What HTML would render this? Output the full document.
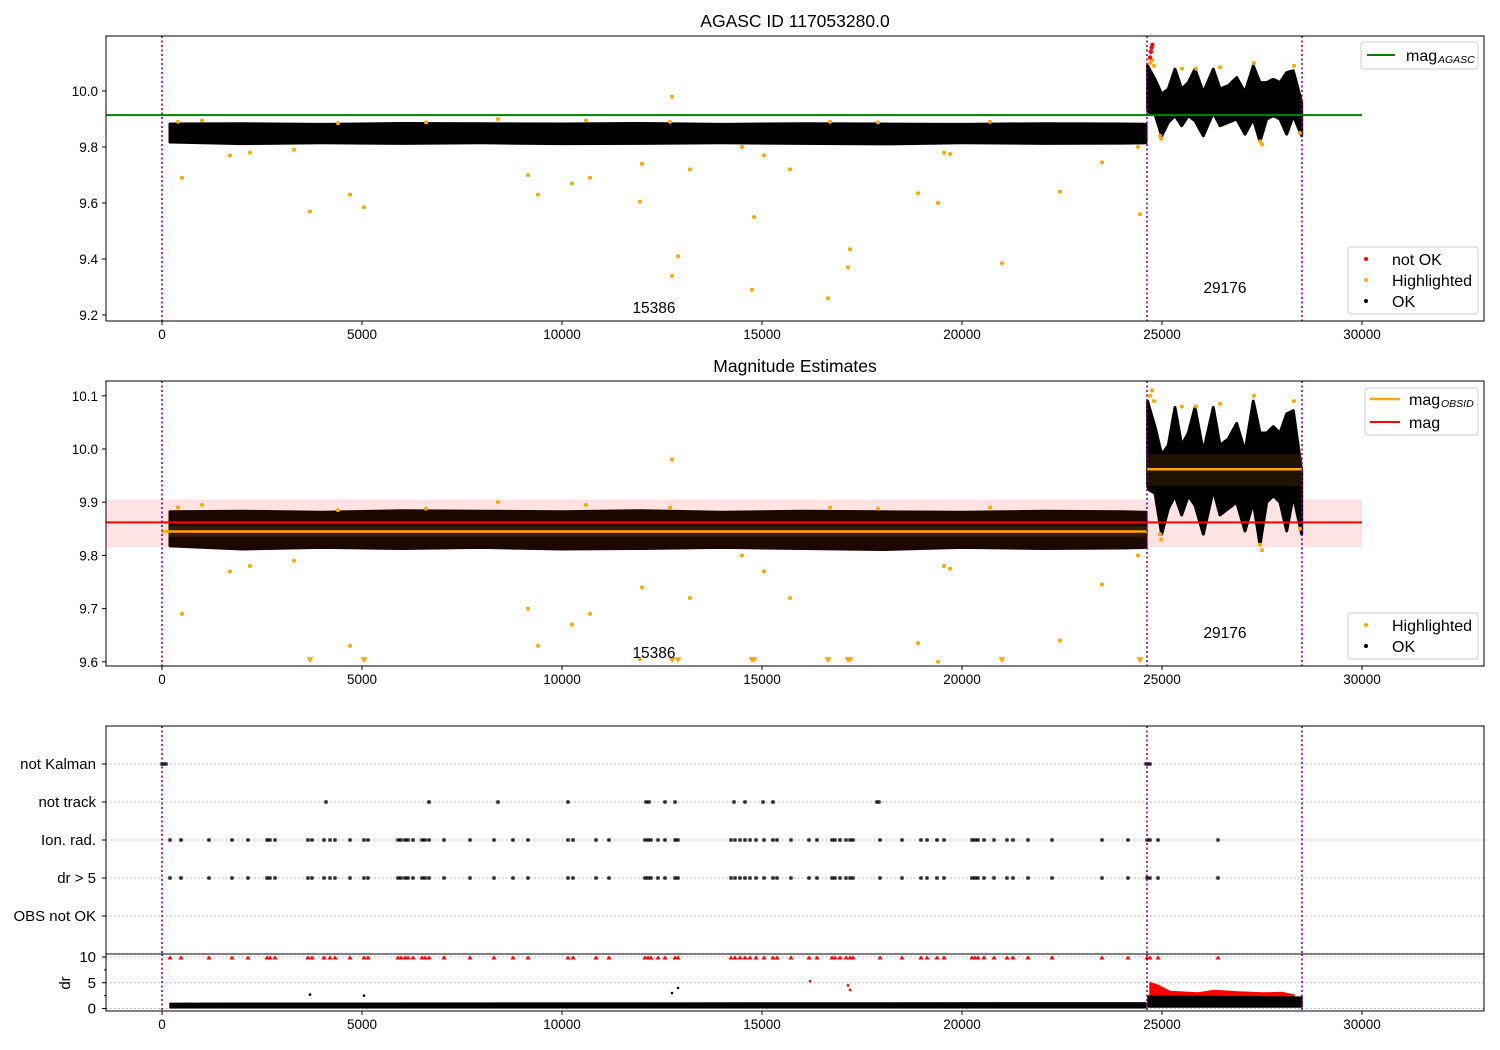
<!DOCTYPE html>
<html><head><meta charset="utf-8"><style>
body{margin:0;background:#fff}
svg{display:block;font-family:"Liberation Sans","DejaVu Sans",sans-serif}
</style></head><body>
<svg id="chart" width="1500" height="1050" xmlns="http://www.w3.org/2000/svg"></svg>
<script>
// ---------- data ----------
const xTicks=[0,5000,10000,15000,20000,25000,30000];
const y1Ticks=[9.2,9.4,9.6,9.8,10.0];
const y2Ticks=[9.6,9.7,9.8,9.9,10.0,10.1];
const flagRows=["not Kalman","not track","Ion. rad.","dr > 5","OBS not OK"];
const drTicks=[0,5,10];
const obsBounds=[0,24625,28500];
const obsLabels=["15386","29176"];
const obsLabelX=[12300,26575];
const magAgasc=9.914;
const magEst=9.862, magEstLo=9.815, magEstHi=9.905;
const magObsid=[9.845,9.962];
const magObsidLo=[9.835,9.93], magObsidHi=[9.855,9.99];
// segment 1 band envelope (time, hi, lo)
const seg1T=[200,2000,4000,6000,8000,10000,12000,14000,16000,18000,20000,22000,24000,24600];
const seg1Hi=[9.882,9.883,9.881,9.884,9.883,9.882,9.884,9.881,9.883,9.882,9.881,9.883,9.882,9.881];
const seg1Lo=[9.818,9.812,9.815,9.813,9.815,9.812,9.813,9.815,9.813,9.811,9.815,9.813,9.814,9.815];
// segment 2 band envelope
const seg2T=[24640,24683,24825,24992,25158,25325,25492,25658,25825,26033,26283,26450,26658,26867,27075,27283,27450,27617,27783,27950,28117,28283,28492];
const seg2Hi=[10.09,10.078,10.042,9.989,10.007,10.078,10.007,10.03,10.078,9.995,10.078,10.007,10.019,10.048,9.995,10.09,10.03,10.03,10.042,10.03,10.066,10.072,9.959];
const seg2Lo=[9.93,9.923,9.917,9.84,9.888,9.912,9.876,9.912,9.894,9.84,9.923,9.876,9.888,9.9,9.846,9.9,9.82,9.9,9.912,9.9,9.846,9.912,9.84];
// highlighted outliers
const hiT=[500,1700,2200,3700,4700,5050,9150,9400,10250,10700,11950,12000,12750,12750,12900,13200,14750,14800,15050,15700,16650,17150,17200,18900,19400,19550,19700,21000,22450,23500,24450,
 400,1000,3300,4400,6600,8400,10600,12700,14500,16700,17900,20700,24400,24700,24750,24800,24950,24980,25500,25850,26450,27300,27450,27500,28300,28450];
const hiV=[9.69,9.77,9.78,9.57,9.63,9.585,9.70,9.63,9.67,9.69,9.605,9.74,9.98,9.34,9.41,9.72,9.29,9.55,9.77,9.72,9.26,9.37,9.435,9.635,9.60,9.78,9.775,9.385,9.64,9.745,9.56,
 9.89,9.895,9.79,9.885,9.888,9.90,9.895,9.89,9.80,9.89,9.888,9.89,9.80,10.1,10.11,10.09,9.84,9.83,10.08,10.08,10.085,10.1,9.82,9.81,10.09,9.85];
const notOkT=[24700,24720,24740,24760];
const notOkV=[10.12,10.14,10.155,10.165];
// flags
const notKalmanT=[0,50,100,24600,24650,24700];
const notTrackT=[4100,6675,8400,10150,12100,12175,12575,12825,14300,14575,15025,15275,17875,17925];
const ionT=[200,475,1175,1750,2150,2625,2700,2825,3650,3750,4050,4200,4325,4700,5050,5150,5900,5975,6075,6150,6275,6500,6575,6675,7050,7700,8300,8775,9150,10150,10275,10850,11175,12075,12150,12225,12400,12575,12825,12900,14225,14325,14450,14575,14700,14850,15050,15275,15375,15725,16175,16375,16750,16825,16950,17100,17200,17275,17950,18500,18975,19125,19375,19550,20250,20325,20400,20550,20800,21125,21275,21650,22250,23500,24150,24625,24700,24900,26400];
// dr
const drSegT=[200,24600,24650,28500];
const drHi=[1.0,1.1,2.4,2.2];
const drLo=[0.15,0.15,0.3,0.3];
const drRedT=[24700,24900,25200,25900,26300,26900,27500,28000,28300];
const drRedV=[5.0,4.5,3.3,3.0,3.5,3.2,3.0,3.1,2.6];
const drOutT=[3700,5050,12750,12900,16200,17150,17200];
const drOutV=[2.7,2.5,3.0,4.0,5.3,4.5,3.6];

// ---------- drawing ----------
const NS="http://www.w3.org/2000/svg";
const svg=document.getElementById('chart');
function el(tag,attrs,parent){const e=document.createElementNS(NS,tag);for(const k in attrs)e.setAttribute(k,attrs[k]);(parent||svg).appendChild(e);return e;}
const L=106,R=1484;
const X=v=>162+v*0.04;
const Y1=v=>91+(10-v)*280;
const Y2=v=>449+(10-v)*532;
const YF=i=>764+i*38;
const YD=v=>1008.5-v*5.15;

function clip(id,y0,y1){const c=el('clipPath',{id:id});el('rect',{x:L,y:y0,width:R-L,height:y1-y0},c);}
clip('c1',36,321);clip('c2',381,666);clip('c3',726,954);clip('c4',954,1011);

function band(T,Hi,Lo,Y,fill,g,sw){let d='M'+T.map((t,i)=>X(t)+','+Y(Hi[i])).join('L');for(let i=T.length-1;i>=0;i--)d+='L'+X(T[i])+','+Y(Lo[i]);d+='Z';
 const p=el('path',{d:d,fill:fill,stroke:fill,'stroke-width':sw===undefined?3:sw,'stroke-linejoin':'round'},g);}
function dot(x,y,c,r,g){const e=el('circle',{cx:x,cy:y,r:r,fill:c},g);}
function tri(x,y,c,g,down,s){s=s||3.5;const pts=down?`${x-s},${y-s} ${x+s},${y-s} ${x},${y+s*0.6}`:`${x-s},${y+s*0.6} ${x+s},${y+s*0.6} ${x},${y-s}`;
 const e=el('polygon',{points:pts,fill:c},g);}
function text(x,y,s,attrs,name){const t=el('text',Object.assign({x:x,y:y,'font-size':13.5,fill:'#000'},attrs||{}));t.textContent=s;return t;}
function xAxis(yb){xTicks.forEach(v=>{el('line',{x1:X(v),x2:X(v),y1:yb,y2:yb+4,stroke:'#000'});text(X(v),yb+18,String(v),{'text-anchor':'middle'},'x-tick-label');});}
function vlines(y0,y1,g){obsBounds.forEach(v=>{const l=el('line',{x1:X(v),x2:X(v),y1:y0,y2:y1,stroke:'#800080','stroke-width':1.6,'stroke-dasharray':'2,2.5'},g);});}
function hline(y,x0,x1,c,w,g,name){const l=el('line',{x1:x0,x2:x1,y1:y,y2:y,stroke:c,'stroke-width':w},g);return l;}
function frame(y0,y1,name){const r=el('rect',{x:L,y:y0,width:R-L,height:y1-y0,fill:'none',stroke:'#000','stroke-width':1});}
function legendBox(x,y,w,h){const r=el('rect',{x:x,y:y,width:w,height:h,rx:3,fill:'#fff','fill-opacity':0.8,stroke:'#ccc'});}
const BIG={'font-size':16};

// ---- panel 1 ----
text(795,27,'AGASC ID 117053280.0',{'text-anchor':'middle','font-size':17.5},'chart-title');
const g1=el('g',{'clip-path':'url(#c1)'});
band(seg1T,seg1Hi,seg1Lo,Y1,'#000',g1);
band(seg2T,seg2Hi,seg2Lo,Y1,'#000',g1);
hiT.forEach((t,i)=>dot(X(t),Y1(hiV[i]),'orange',2,g1));
notOkT.forEach((t,i)=>dot(X(t),Y1(notOkV[i]),'red',2.2,g1));
hline(Y1(magAgasc),L,X(30000),'green',2,g1,'mag-agasc-line');
vlines(36,321,g1);
obsLabels.forEach((s,i)=>text(X(obsLabelX[i]),[313,293][i],s,{'text-anchor':'middle','font-size':15.5},'obsid-label'));
frame(36,321,'panel-agasc');
xAxis(321);
y1Ticks.forEach(v=>{el('line',{x1:L-4,x2:L,y1:Y1(v),y2:Y1(v),stroke:'#000'});text(L-8,Y1(v)+5,v.toFixed(1),{'text-anchor':'end'},'y-tick-label');});
legendBox(1361,42,117,27);hline(55,1367,1395,'green',2,null,'legend-mag-agasc');
text(1406,61,'mag',BIG,'legend-label');text(1438,63,'AGASC',{'font-size':10.5,'font-style':'italic'},'legend-label');
legendBox(1348,247,130,67);
[['not OK','red',260],['Highlighted','orange',281],['OK','#000',302]].forEach(a=>{dot(1366,a[2]-1,a[1],2,null);text(1392,a[2]+5,a[0],BIG,'legend-entry');});

// ---- panel 2 ----
text(795,372,'Magnitude Estimates',{'text-anchor':'middle','font-size':17.5},'panel-title');
const g2=el('g',{'clip-path':'url(#c2)'});
const pb=el('rect',{x:L,y:Y2(magEstHi),width:X(30000)-L,height:Y2(magEstLo)-Y2(magEstHi),fill:'red','fill-opacity':0.11},g2);
band(seg1T,seg1Hi,seg1Lo,Y2,'#1c0800',g2);
band(seg2T,seg2Hi,seg2Lo,Y2,'#000',g2);
[[0,24625],[24625,28500]].forEach((s,i)=>{const r=el('rect',{x:X(s[0]),y:Y2(magObsidHi[i]),width:X(s[1])-X(s[0]),height:Y2(magObsidLo[i])-Y2(magObsidHi[i]),fill:'orange','fill-opacity':0.12},g2);});
hiT.forEach((t,i)=>{if(hiV[i]<9.6)tri(X(t),Y2(9.6)-1,'orange',g2,true);else dot(X(t),Y2(hiV[i]),'orange',2,g2);});
hline(Y2(magEst),L,X(30000),'red',2,g2,'mag-line');
[[0,24625],[24625,28500]].forEach((s,i)=>hline(Y2(magObsid[i]),X(s[0]),X(s[1]),'orange',2.5,g2,'mag-obsid-line'));
vlines(381,666,g2);
obsLabels.forEach((s,i)=>text(X(obsLabelX[i]),[658,638][i],s,{'text-anchor':'middle','font-size':15.5},'obsid-label'));
frame(381,666,'panel-estimates');
xAxis(666);
y2Ticks.forEach(v=>{el('line',{x1:L-4,x2:L,y1:Y2(v),y2:Y2(v),stroke:'#000'});text(L-8,Y2(v)+5,v.toFixed(1),{'text-anchor':'end'},'y-tick-label');});
legendBox(1365,388,113,47);hline(399,1370,1400,'orange',2.5,null,'legend-mag-obsid');hline(422,1370,1400,'red',2,null,'legend-mag');
text(1409,405,'mag',BIG,'legend-label');text(1441,407,'OBSID',{'font-size':10.5,'font-style':'italic'},'legend-label');text(1409,428,'mag',BIG,'legend-label');
legendBox(1348,613,130,46);
[['Highlighted','orange',626],['OK','#000',647]].forEach(a=>{dot(1366,a[2]-1,a[1],2,null);text(1392,a[2]+5,a[0],BIG,'legend-entry');});

// ---- panel 3: flags ----
const g3=el('g',{'clip-path':'url(#c3)'});
flagRows.forEach((s,i)=>{hline(YF(i),L,R,'#aaa',1,g3,'flag-gridline').setAttribute('stroke-dasharray','1.5,2.5');
 el('line',{x1:L-4,x2:L,y1:YF(i),y2:YF(i),stroke:'#000'});text(L-10,YF(i)+5,s,{'text-anchor':'end','font-size':15},'flag-row-label');});
function flagPts(T,row){T.forEach(t=>{const r=el('rect',{x:X(t)-1.2,y:YF(row)-1.2,width:2.4,height:2.4,fill:'#444',stroke:'#000','stroke-width':0.8},g3);});}
flagPts(notKalmanT,0);flagPts(notTrackT,1);flagPts(ionT,2);flagPts(ionT,3);
vlines(726,954,g3);
frame(726,954,'panel-flags');

// ---- panel 4: dr ----
const g4=el('g',{'clip-path':'url(#c4)'});
drTicks.forEach(v=>{hline(YD(v),L,R,'#aaa',1,g4,'dr-gridline').setAttribute('stroke-dasharray','1.5,2.5');
 el('line',{x1:L-4,x2:L,y1:YD(v),y2:YD(v),stroke:'#000'});text(L-10,YD(v)+5,String(v),{'text-anchor':'end','font-size':15},'dr-tick-label');});
[2.5,7.5].forEach(v=>el('line',{x1:L-2,x2:L,y1:YD(v),y2:YD(v),stroke:'#000'}));
band(drRedT,drRedV,drRedT.map(()=>1.5),YD,'red',g4,1.5);
band([drSegT[0],drSegT[1]],[drHi[0],drHi[1]],[drLo[0],drLo[1]],YD,'#000',g4,1.5);
band([drSegT[2],drSegT[3]],[drHi[2],drHi[3]],[drLo[2],drLo[3]],YD,'#000',g4,1.5);
drOutT.forEach((t,i)=>dot(X(t),YD(drOutV[i]),i>=4?'red':'#000',1.3,g4));
ionT.forEach(t=>tri(X(t),YD(10)+1,'red',g4,false,2.6));
vlines(954,1011,g4);
frame(954,1011,'panel-dr');
text(70,983,'dr',{'text-anchor':'middle','font-size':15,transform:'rotate(-90 70 983)'},'dr-axis-title');
xAxis(1011);
</script>
</body></html>
